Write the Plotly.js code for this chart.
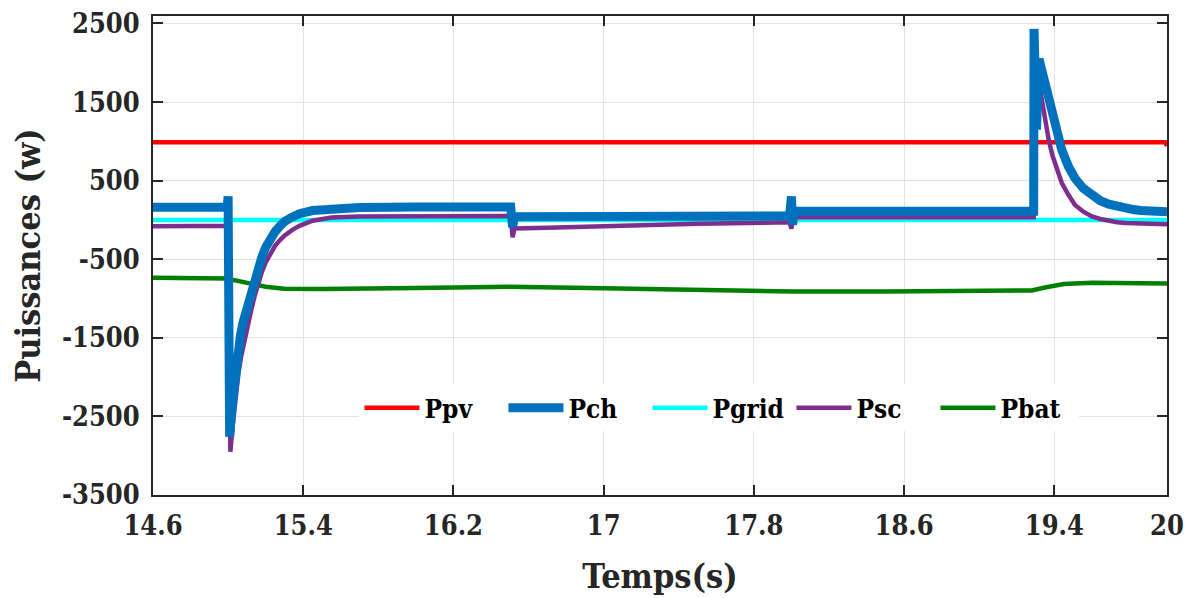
<!DOCTYPE html>
<html>
<head>
<meta charset="utf-8">
<script src="https://cdn.plot.ly/plotly-3.0.1.min.js"></script>
<style>html,body{margin:0;padding:0;background:#fff;}#chart{width:1193px;height:598px;}</style>
</head>
<body>
<div id="chart"></div>
<script>
// ---- data ----
const seriesNames = ["Ppv", "Pch", "Pgrid", "Psc", "Pbat"];

const tPpv = [14.6, 19.99, 20.0];
const vPpv = [990, 990, 940];

const tPgrid = [14.6, 20.0];
const vPgrid = [0, 0];

const tPch = [14.6, 14.995, 15.0, 15.008, 15.02, 15.035, 15.05, 15.065, 15.08, 15.1, 15.12, 15.14, 15.16, 15.18, 15.2, 15.225, 15.25, 15.275, 15.3, 15.34, 15.38, 15.45, 15.55, 15.7, 16.0, 16.505,
  16.515, 16.525, 17.0, 17.5, 17.99, 18.0, 18.006, 18.015, 18.5, 19.29, 19.292, 19.305, 19.318, 19.335, 19.35, 19.37, 19.39, 19.415, 19.44, 19.475, 19.51, 19.555, 19.6, 19.645, 19.69, 19.735, 19.78, 19.82, 19.86, 19.93, 20.0];
const vPch = [160, 160, 300, -2760, -2400, -2000, -1700, -1480, -1300, -1120, -950, -770, -600, -470, -350, -240, -150, -80, -20, 35, 80, 120, 145, 158, 165, 165,
  -90, 40, 45, 48, 50, 300, -60, 110, 110, 110, 2430, 1150, 2050, 1880, 1750, 1600, 1440, 1150, 890, 680, 530, 400, 305, 245, 200, 170, 150, 132, 120, 108, 105];

const tPsc = [14.6, 14.995, 15.0, 15.012, 15.025, 15.04, 15.055, 15.07, 15.085, 15.1, 15.12, 15.14, 15.16, 15.18, 15.2, 15.225, 15.25, 15.275, 15.3, 15.34, 15.38, 15.45, 15.55, 15.7, 16.0, 16.505,
  16.515, 16.525, 16.7, 17.0, 17.5, 17.99, 18.0, 18.01, 18.5, 19.29, 19.292, 19.31, 19.325, 19.35, 19.37, 19.39, 19.415, 19.44, 19.475, 19.51, 19.555, 19.6, 19.645, 19.69, 19.735, 19.78, 19.86, 20.0];
const vPsc = [-80, -75, 200, -2950, -2600, -2250, -1950, -1730, -1550, -1380, -1180, -980, -810, -660, -540, -420, -330, -260, -200, -130, -75, -10, 30, 45, 50, 50,
  -220, -110, -100, -80, -50, -30, -110, 35, 35, 35, 1400, 1500, 1650, 1250, 1020, 820, 630, 470, 320, 190, 105, 45, 12, -12, -30, -40, -50, -55];

const tPbat = [14.6, 15.0, 15.02, 15.1, 15.2, 15.3, 15.5, 16.0, 16.5, 17.0, 17.5, 18.0, 18.5, 19.0, 19.28, 19.35, 19.45, 19.6, 19.8, 20.0];
const vPbat = [-735, -745, -760, -800, -850, -875, -880, -865, -850, -870, -895, -910, -910, -900, -898, -860, -815, -800, -805, -810];

const xTickVals = [14.6, 15.4, 16.2, 17, 17.8, 18.6, 19.4, 20];
const xTickText = ["14.6", "15.4", "16.2", "17", "17.8", "18.6", "19.4", "20"];
const yTickVals = [-3500, -2500, -1500, -500, 500, 1500, 2500];
const yTickText = ["-3500", "-2500", "-1500", "-500", "500", "1500", "2500"];

// ---- traces (draw order differs from legend order) ----
function tr(name, x, y, color, width, rank) {
  return {type: "scatter", mode: "lines", name: name, x: x, y: y, legendrank: rank,
          line: {color: color, width: width, shape: "linear"}, hoverinfo: "skip"};
}
const data = [
  tr(seriesNames[4], tPbat, vPbat, "#008000", 4.5, 5),
  tr(seriesNames[0], tPpv, vPpv, "#FF0000", 4.5, 1),
  tr(seriesNames[2], tPgrid, vPgrid, "#00FFFF", 4.5, 3),
  tr(seriesNames[3], tPsc, vPsc, "#7E2F8E", 4.5, 4),
  tr(seriesNames[1], tPch, vPch, "#0072BD", 9, 2)
];

const condSerif = "DejaVu Serif Condensed";
const axisFont = {family: condSerif, size: 27, color: "#262626", weight: "bold"};
const titleFont = {family: condSerif, size: 34, color: "#262626", weight: "bold"};

const layout = {
  width: 1193, height: 598,
  font: {family: condSerif},
  margin: {l: 153, r: 26, t: 16, b: 103, pad: 0},
  paper_bgcolor: "#ffffff", plot_bgcolor: "#ffffff",
  showlegend: true,
  legend: {
    orientation: "h", x: 0.2036, xanchor: "left", y: 0.182, yanchor: "middle",
    bgcolor: "#ffffff", borderwidth: 0, traceorder: "normal",
    itemwidth: 55, entrywidth: 74, entrywidthmode: "pixels",
    font: {family: condSerif, size: 26, color: "#000000", weight: "bold"}
  },
  xaxis: {
    range: [14.6, 20], tickmode: "array", tickvals: xTickVals, ticktext: xTickText,
    showgrid: true, gridcolor: "#e3e3e3", gridwidth: 1, zeroline: false,
    showline: true, linecolor: "#262626", linewidth: 2, mirror: "ticks",
    ticks: "inside", ticklen: 10, tickwidth: 2, tickcolor: "#262626",
    tickfont: axisFont, ticklabelstandoff: 6,
    title: {text: "Temps(s)", font: titleFont, standoff: 24}
  },
  yaxis: {
    range: [-3500, 2595], tickmode: "array", tickvals: yTickVals, ticktext: yTickText,
    showgrid: true, gridcolor: "#e3e3e3", gridwidth: 1, zeroline: false,
    showline: true, linecolor: "#262626", linewidth: 2, mirror: "ticks",
    ticks: "inside", ticklen: 10, tickwidth: 2, tickcolor: "#262626",
    tickfont: axisFont, ticklabelstandoff: 6,
    title: {text: "Puissances (w)", font: titleFont, standoff: 11}
  }
};

Plotly.newPlot("chart", data, layout, {staticPlot: true, displayModeBar: false});
</script>
</body>
</html>
